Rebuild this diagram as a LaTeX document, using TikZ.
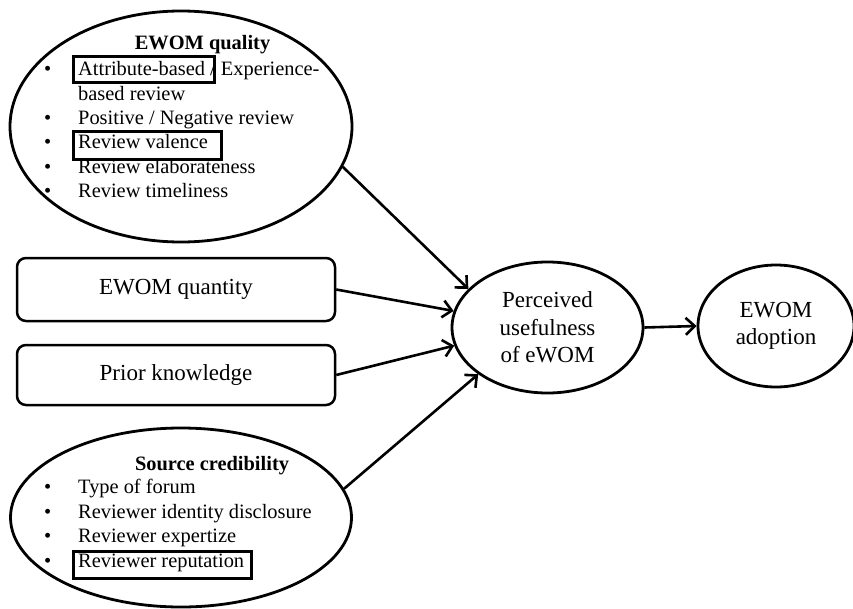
\documentclass[tikz,border=0pt]{standalone}
\usepackage{fontspec}
\setmainfont{Liberation Serif}
\usetikzlibrary{shapes.geometric,arrows.meta}
\begin{document}
\begin{tikzpicture}[x=1pt,y=-1pt,
  oval/.style={ellipse, draw, line width=2.8pt, inner sep=0pt},
  rbox/.style={draw, rounded corners=9pt, line width=2.5pt, minimum width=318pt, font=\fontsize{23}{27.5}\selectfont},
  item/.style={anchor=base west, inner sep=0pt, font=\fontsize{20.4}{24}\selectfont},
  ttl/.style={anchor=base, inner sep=0pt, font=\fontsize{20.4}{24}\selectfont\bfseries},
  hl/.style={draw, line width=2.5pt, anchor=north west, inner sep=0pt},
  big/.style={align=center, font=\fontsize{23}{27.5}\selectfont},
  arr/.style={line width=2.6pt, -{Straight Barb[length=9pt,width=17pt,line width=2.6pt]}}
]
\useasboundingbox (0,0) rectangle (853,608);

% top ellipse: EWOM quality
\node[oval, minimum width=342pt, minimum height=231pt] (q) at (181,126.5) {};
\node[ttl] (qt) at (202.5,49) {EWOM quality};
\node[item] (qb1) at (44,75) {•};
\node[item] (q1) at (78,75) {Attribute-based / Experience-};
\node[item] (q1b) at (78,100) {based review};
\node[item] (qb2) at (44,124) {•};
\node[item] (q2) at (78,124) {Positive / Negative review};
\node[item] (qb3) at (44,148) {•};
\node[item] (q3) at (78,148) {Review valence};
\node[item] (qb4) at (44,173) {•};
\node[item] (q4) at (78,173) {Review elaborateness};
\node[item] (qb5) at (44,197) {•};
\node[item] (q5) at (78,197) {Review timeliness};
\node[hl, minimum width=141pt, minimum height=26pt] (h1) at (72,55) {};
\node[hl, minimum width=148pt, minimum height=28pt] (h2) at (72,130) {};

% rounded boxes
\node[rbox, minimum height=63pt] (qty) at (176,289.5) {EWOM quantity};
\node[rbox, minimum height=60pt] (pk) at (176,375) {Prior knowledge};

% bottom ellipse: Source credibility
\node[oval, minimum width=341pt, minimum height=179pt] (s) at (181,517.5) {};
\node[ttl] (st) at (212,470) {Source credibility};
\node[item] (sb1) at (44,493) {•};
\node[item] (s1) at (78,493) {Type of forum};
\node[item] (sb2) at (44,518) {•};
\node[item] (s2) at (78,518) {Reviewer identity disclosure};
\node[item] (sb3) at (44,542) {•};
\node[item] (s3) at (78,542) {Reviewer expertize};
\node[item] (sb4) at (44,567) {•};
\node[item] (s4) at (78,567) {Reviewer reputation};
\node[hl, minimum width=178pt, minimum height=27pt] (h3) at (72,550) {};

% perceived usefulness and adoption
\node[oval, minimum width=191pt, minimum height=131pt, big] (p) at (547.5,327.5) {Perceived\\usefulness\\of eWOM};
\node[oval, minimum width=156pt, minimum height=122pt, big] (a) at (776,326) {EWOM\\adoption};

% arrows
\draw[arr] (q.-14) -- (p.154);
\draw[arr] (qty.east) -- (p.170);
\draw[arr] (pk.east) -- (p.191);
\draw[arr] (s.10) -- (p.214);
\draw[arr] (p.east) -- (a.west);
\end{tikzpicture}
\end{document}
